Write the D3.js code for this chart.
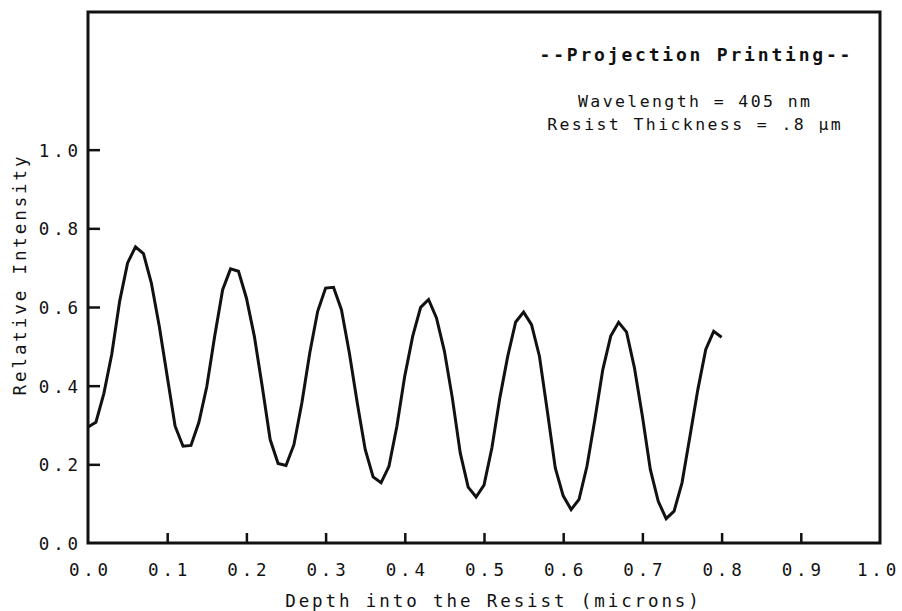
<!DOCTYPE html>
<html>
<head>
<meta charset="utf-8">
<script src="https://cdn.jsdelivr.net/npm/d3@7"></script>
<style>
    body { margin: 0; background: #fff; }
    text { font-family: "DejaVu Sans Mono", "Liberation Mono", monospace; fill: #111; }
</style>
</head>
<body>
<div id="chart"></div>
<script>
// depth into the resist (microns) and relative intensity
var depth = [0.00, 0.01, 0.02, 0.03, 0.04, 0.05, 0.06, 0.07, 0.08, 0.09,
    0.10, 0.11, 0.12, 0.13, 0.14, 0.15, 0.16, 0.17, 0.18, 0.19,
    0.20, 0.21, 0.22, 0.23, 0.24, 0.25, 0.26, 0.27, 0.28, 0.29,
    0.30, 0.31, 0.32, 0.33, 0.34, 0.35, 0.36, 0.37, 0.38, 0.39,
    0.40, 0.41, 0.42, 0.43, 0.44, 0.45, 0.46, 0.47, 0.48, 0.49,
    0.50, 0.51, 0.52, 0.53, 0.54, 0.55, 0.56, 0.57, 0.58, 0.59,
    0.60, 0.61, 0.62, 0.63, 0.64, 0.65, 0.66, 0.67, 0.68, 0.69,
    0.70, 0.71, 0.72, 0.73, 0.74, 0.75, 0.76, 0.77, 0.78, 0.79, 0.80];
var intensity = [0.295, 0.307, 0.380, 0.480, 0.615, 0.712, 0.753, 0.736, 0.661, 0.551,
    0.424, 0.297, 0.246, 0.248, 0.307, 0.398, 0.526, 0.644, 0.697, 0.691,
    0.623, 0.526, 0.398, 0.263, 0.202, 0.197, 0.250, 0.356, 0.483, 0.589,
    0.648, 0.650, 0.593, 0.483, 0.356, 0.238, 0.168, 0.153, 0.195, 0.297,
    0.425, 0.526, 0.599, 0.619, 0.572, 0.488, 0.369, 0.229, 0.142, 0.117,
    0.147, 0.242, 0.369, 0.475, 0.562, 0.587, 0.555, 0.475, 0.335, 0.191,
    0.120, 0.085, 0.111, 0.195, 0.314, 0.441, 0.526, 0.561, 0.536, 0.445,
    0.322, 0.187, 0.106, 0.062, 0.081, 0.153, 0.271, 0.390, 0.492, 0.538, 0.523];

var xTicks = [0.0, 0.1, 0.2, 0.3, 0.4, 0.5, 0.6, 0.7, 0.8, 0.9, 1.0];
var yTicks = [0.0, 0.2, 0.4, 0.6, 0.8, 1.0];
var xLabel = "Depth into the Resist (microns)";
var yLabel = "Relative Intensity";
var title = "--Projection Printing--";
var notes = ["Wavelength = 405 nm", "Resist Thickness = .8 \u03bcm"];

var width = 902, height = 611;
var plotLeft = 88, plotRight = 880, plotTop = 12, plotBottom = 543;

var svg = d3.select("#chart").append("svg")
    .attr("width", width)
    .attr("height", height);

svg.append("rect").attr("width", width).attr("height", height).attr("fill", "#fff");

var x = d3.scaleLinear().domain([0, 1]).range([plotLeft, plotRight]);
var y = d3.scaleLinear().domain([0, 1.35]).range([plotBottom, plotTop]);

// frame
svg.append("rect")
    .attr("x", plotLeft).attr("y", plotTop)
    .attr("width", plotRight - plotLeft).attr("height", plotBottom - plotTop)
    .attr("fill", "none")
    .attr("stroke", "#111")
    .attr("stroke-width", 3);

// x axis, ticks pointing inward
var tickSp = 3.8;
var gx = svg.append("g")
    .attr("transform", "translate(0," + plotBottom + ")")
    .call(d3.axisBottom(x).tickValues(xTicks).tickSizeInner(-10).tickSizeOuter(0)
        .tickPadding(0).tickFormat(d3.format(".1f")));
gx.select(".domain").remove();
gx.selectAll("line").attr("stroke", "#111").attr("stroke-width", 2.5)
    .style("display", function (d) { return (d === 0 || d === 1) ? "none" : null; });
gx.selectAll("text")
    .attr("y", 33).attr("dy", 0)
    .attr("dx", function (d) { return d === 1 ? -2 : tickSp / 2; })
    .attr("font-size", 17.5)
    .attr("letter-spacing", tickSp)
    .attr("fill", "#111");

// y axis
var gy = svg.append("g")
    .attr("transform", "translate(" + plotLeft + ",0)")
    .call(d3.axisLeft(y).tickValues(yTicks).tickSizeInner(-12).tickSizeOuter(0)
        .tickPadding(0).tickFormat(d3.format(".1f")));
gy.select(".domain").remove();
gy.selectAll("line").attr("stroke", "#111").attr("stroke-width", 2.5)
    .style("display", function (d) { return d === 0 ? "none" : null; });
gy.selectAll("text")
    .attr("x", -10 + tickSp).attr("dy", "0.38em")
    .attr("font-size", 17.5)
    .attr("letter-spacing", tickSp)
    .attr("fill", "#111");

// axis titles
svg.append("text")
    .attr("x", 492 + 1.5).attr("y", 607)
    .attr("text-anchor", "middle")
    .attr("font-size", 17.5)
    .attr("letter-spacing", 2.9)
    .text(xLabel);

svg.append("text")
    .attr("transform", "translate(26," + (273 + 1.5) + ") rotate(-90)")
    .attr("text-anchor", "middle")
    .attr("font-size", 17.5)
    .attr("letter-spacing", 2.9)
    .text(yLabel);

// annotation block
svg.append("text")
    .attr("x", 695 + 1.4).attr("y", 61)
    .attr("text-anchor", "middle")
    .attr("font-size", 18)
    .attr("font-weight", "bold")
    .attr("letter-spacing", 2.8)
    .text(title);

svg.selectAll(".note").data(notes).enter().append("text")
    .attr("class", "note")
    .attr("x", 694 + 1.2)
    .attr("y", function (d, i) { return 107 + i * 23; })
    .attr("text-anchor", "middle")
    .attr("font-size", 16.5)
    .attr("letter-spacing", 2.4)
    .text(function (d) { return d; });

// intensity curve
var line = d3.line()
    .x(function (d, i) { return x(depth[i]); })
    .y(function (d) { return y(d); });

svg.append("path")
    .datum(intensity)
    .attr("d", line)
    .attr("fill", "none")
    .attr("stroke", "#111")
    .attr("stroke-width", 3)
    .attr("stroke-linejoin", "miter");
</script>
</body>
</html>
